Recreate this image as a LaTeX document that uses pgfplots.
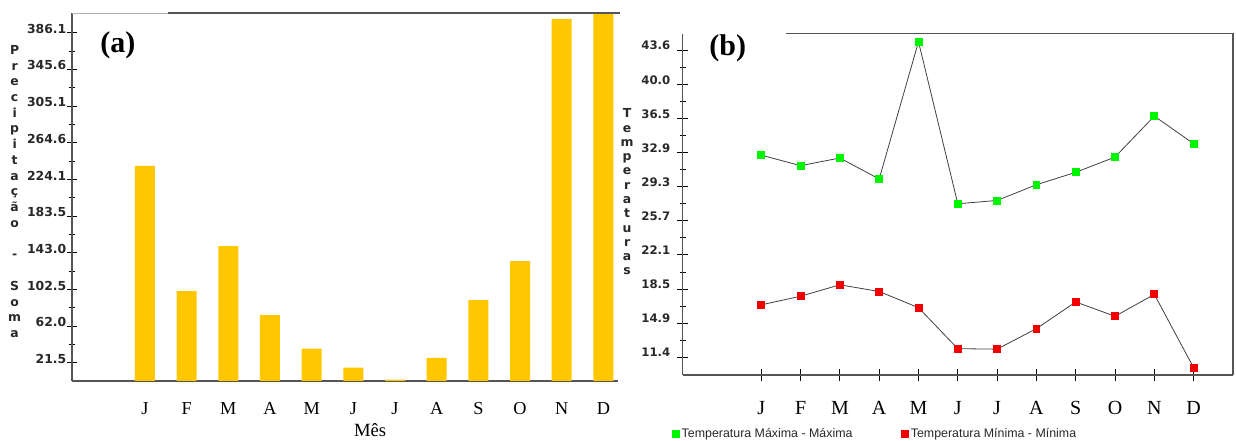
\documentclass[border=0pt]{standalone}
\usepackage{pgfplots}
\pgfplotsset{compat=1.18}
\usepackage{fontspec}
\setmainfont{Liberation Serif}
\newfontfamily\dejavu{DejaVu Sans}
\newfontfamily\arialf{Liberation Sans}
\definecolor{baryel}{RGB}{255,199,0}
\definecolor{axgray}{RGB}{85,85,85}
\definecolor{ptgreen}{RGB}{0,245,0}
\definecolor{ptred}{RGB}{240,0,0}
\definecolor{lblgray}{RGB}{40,40,40}
\begin{document}
\begin{tikzpicture}
\useasboundingbox (0,0) rectangle (927pt,330.75pt);
% ---------------- panel (a)
\begin{axis}[
  at={(54pt,45pt)}, anchor=south west,
  scale only axis, width=409.5pt, height=276pt,
  clip=false,
  xmin=-1.75, xmax=11.35, ymin=1.5, ymax=408,
  axis x line*=bottom, axis y line*=left,
  axis line style={axgray, line width=0.9pt},
  ybar, bar width=15pt,
  xtick={0,...,11}, xticklabels={J,F,M,A,M,J,J,A,S,O,N,D},
  x tick style={draw=none},
  xticklabel style={font=\fontsize{13.7}{16}\selectfont, yshift=-9pt},
  ytick={21.5,62.0,102.5,143.0,183.5,224.1,264.6,305.1,345.6,386.1},
  yticklabels={21.5,62.0,102.5,143.0,183.5,224.1,264.6,305.1,345.6,386.1},
  minor ytick={41.75,82.25,122.75,163.25,203.8,244.35,284.85,325.35,365.85},
  tick align=center, major tick length=7.5pt, minor tick length=5pt,
  y tick style={black, line width=0.7pt},
  yticklabel style={font=\dejavu\bfseries\fontsize{9.3}{12}\selectfont, text=lblgray, yshift=3pt, xshift=3pt},
  xlabel={Mês},
  xlabel style={at={(axis description cs:0.546,-0.133)}, anchor=center, font=\fontsize{14}{16}\selectfont},
]
\addplot[fill=baryel, draw=none] coordinates {
  (0,239.0) (1,100.7) (2,150.4) (3,74.2) (4,37.2) (5,16.3)
  (6,3.0) (7,26.9) (8,90.8) (9,133.8) (10,401.5) (11,408)
};
\draw[gray!60, line width=0.5pt] (rel axis cs:0,1) -- (rel axis cs:0.176,1);
\draw[axgray, line width=1.1pt] (rel axis cs:0.176,1) -- (rel axis cs:1.004,1);
\node[align=center, font=\dejavu\bfseries\fontsize{9.3}{11.8}\selectfont, text=lblgray]
  at (axis description cs:-0.105,0.515)
  {P\\r\\e\\c\\i\\p\\i\\t\\a\\ç\\ã\\o\\~\\-\\~\\S\\o\\m\\a};
\node[font=\bfseries\fontsize{22.5}{26}\selectfont] at (axis description cs:0.084,0.913) {(a)};
\end{axis}
% ---------------- panel (b)
\begin{axis}[
  at={(512pt,49.5pt)}, anchor=south west,
  scale only axis, width=412.7pt, height=256.1pt,
  clip=false,
  xmin=-2, xmax=12, ymin=9.54, ymax=45.36,
  axis x line*=bottom, axis y line*=left,
  axis line style={axgray, line width=1pt},
  xtick={0,...,11}, xticklabels={J,F,M,A,M,J,J,A,S,O,N,D},
  xticklabel style={font=\fontsize{15}{18}\selectfont, yshift=-12pt},
  ytick={11.4,14.978,18.556,22.133,25.711,29.289,32.867,36.444,40.022,43.6},
  yticklabels={11.4,14.9,18.5,22.1,25.7,29.3,32.9,36.5,40.0,43.6},
  minor ytick={13.189,16.767,20.344,23.922,27.5,31.078,34.656,38.233,41.811},
  tick align=center, major tick length=8.5pt, minor tick length=4.5pt,
  tick style={black, line width=0.7pt},
  yticklabel style={font=\dejavu\bfseries\fontsize{8.8}{12}\selectfont, text=lblgray, yshift=3.5pt, xshift=-1.5pt},
  legend columns=2,
  legend style={at={(-0.027,-0.173)}, anchor=west, draw=none, fill=none,
    font=\arialf\fontsize{9.3}{11}\selectfont, text=lblgray,
    /tikz/every even column/.append style={column sep=34.5pt}},
  legend image code/.code={\draw[#1] plot[only marks] coordinates {(0.1cm,0cm)};},
]
\addplot[gray!50!black, line width=0.6pt, mark=square*, mark size=2.6pt,
  mark options={fill=ptgreen, draw=ptgreen}] coordinates {
  (0,32.6) (1,31.5) (2,32.3) (3,30.1) (4,44.5) (5,27.5)
  (6,27.85) (7,29.5) (8,30.8) (9,32.4) (10,36.7) (11,33.8)
};
\addlegendentry{Temperatura Máxima - Máxima}
\addplot[gray!50!black, line width=0.6pt, mark=square*, mark size=2.6pt,
  mark options={fill=ptred, draw=ptred}] coordinates {
  (0,16.9) (1,17.8) (2,19.0) (3,18.3) (4,16.6) (5,12.3)
  (6,12.25) (7,14.4) (8,17.2) (9,15.7) (10,18.0) (11,10.3)
};
\addlegendentry{Temperatura Mínima - Mínima}
\draw[axgray, line width=1.3pt] (rel axis cs:0.187,1) -- (rel axis cs:1,1) -- (rel axis cs:1,0);
\node[align=center, font=\dejavu\bfseries\fontsize{9.3}{10.7}\selectfont, text=lblgray]
  at (axis description cs:-0.101,0.536)
  {T\\e\\m\\p\\e\\r\\a\\t\\u\\r\\a\\s};
\node[font=\bfseries\fontsize{22.5}{26}\selectfont] at (axis description cs:0.082,0.957) {(b)};
\end{axis}
\end{tikzpicture}
\end{document}
